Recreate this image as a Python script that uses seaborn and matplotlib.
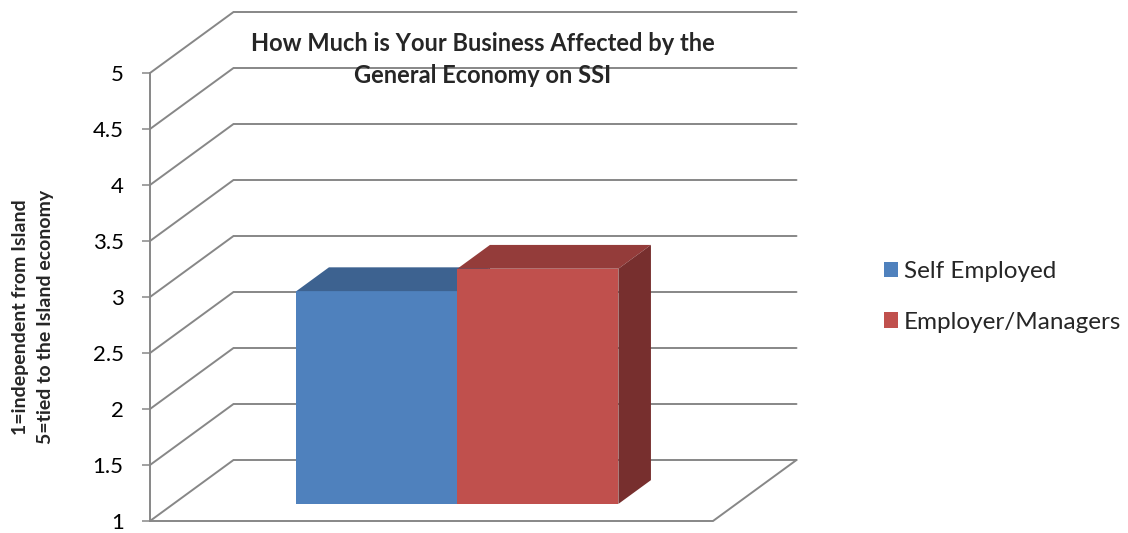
import matplotlib
matplotlib.use("Agg")
import matplotlib.pyplot as plt
from matplotlib.patches import Polygon, Patch
import pandas as pd
import seaborn as sns

# Chart data
series = ["Self Employed", "Employer/Managers"]
values = [2.9, 3.1]
tick_values = [1, 1.5, 2, 2.5, 3, 3.5, 4, 4.5, 5]
tick_labels = ["1", "1.5", "2", "2.5", "3", "3.5", "4", "4.5", "5"]
title_lines = ["How Much is Your Business Affected by the", "General Economy on SSI"]
ylabel_lines = ["1=independent from Island", "5=tied to the Island economy"]

# Face colours of the 3-D columns (front, top, side)
front_colors = ["#4F81BD", "#C0504D"]
top_colors = ["#3D6290", "#943C3A"]
side_colors = ["#34557E", "#772F2E"]
grid_color = "#878787"

sns.set_style("white")
plt.rcParams["font.family"] = ["Lato", "DejaVu Sans"]

W, H = 1128, 533
fig = plt.figure(figsize=(W / 100, H / 100), dpi=100)

# Front plane of the plot box (pixels from the top-left corner)
left_px, right_px, top_px, bottom_px = 150, 713, 73, 521
ax = fig.add_axes([left_px / W, 1 - bottom_px / H,
                   (right_px - left_px) / W, (bottom_px - top_px) / H])

ymin, ymax = 1, 5
cat_px = 161                 # pixels per category unit
first_edge_px = 273          # left edge of the first column on the front plane
xl = -0.5 - (first_edge_px - left_px) / cat_px
xr = xl + (right_px - left_px) / cat_px

# Oblique projection: full depth of the box in data units
px_per_val = (bottom_px - top_px) / (ymax - ymin)
DX = 83.5 / cat_px
DY = 61 / px_per_val
d0, d1 = 0.28, 0.67          # front and back depth of the columns

df = pd.DataFrame({"group": series, "value": values})
sns.barplot(data=df, x="group", y="value", hue="group", palette=front_colors,
            width=1.0, saturation=1, legend=False, errorbar=None, ax=ax,
            linewidth=0)

bars = sorted(ax.patches, key=lambda r: r.get_x())
dd = d1 - d0
for i, (p, v, ctop, cside) in enumerate(zip(bars, values, top_colors, side_colors)):
    w = p.get_width()
    x0 = p.get_x() + d0 * DX
    y0 = ymin + d0 * DY
    top = v + d0 * DY
    p.set_x(x0)
    p.set_y(y0)
    p.set_height(v - ymin)
    p.set_zorder(3 + i)
    p.set_clip_on(False)
    top_face = Polygon([(x0, top), (x0 + w, top),
                        (x0 + w + dd * DX, top + dd * DY), (x0 + dd * DX, top + dd * DY)],
                       closed=True, facecolor=ctop, edgecolor="none",
                       zorder=3.5 + i, clip_on=False)
    side_face = Polygon([(x0 + w, y0), (x0 + w, top),
                         (x0 + w + dd * DX, top + dd * DY), (x0 + w + dd * DX, y0 + dd * DY)],
                        closed=True, facecolor=cside, edgecolor="none",
                        zorder=3.5 + i, clip_on=False)
    ax.add_patch(top_face)
    ax.add_patch(side_face)

# Side-wall and back-wall gridlines
for v in tick_values:
    ax.plot([xl, xl + DX, xr + DX], [v, v + DY, v + DY], color=grid_color,
            lw=1.4, clip_on=False, zorder=1, solid_joinstyle="miter")
# Floor outline
ax.plot([xl, xr, xr + DX], [ymin, ymin, ymin + DY], color=grid_color,
        lw=1.4, clip_on=False, zorder=1, solid_joinstyle="miter")

ax.set_xlim(xl, xr)
ax.set_ylim(ymin, ymax)
ax.set_xticks([])
ax.set_xlabel("")
ax.set_ylabel("")
ax.set_yticks(tick_values, tick_labels)
ax.tick_params(axis="y", left=True, length=6, width=1.1, color=grid_color,
               pad=13, labelsize=16, labelcolor="black")
for lab in ax.get_yticklabels():
    lab.set_horizontalalignment("right")
for side in ["top", "right", "bottom"]:
    ax.spines[side].set_visible(False)
ax.spines["left"].set_color(grid_color)
ax.spines["left"].set_linewidth(1.4)
ax.spines["left"].set_zorder(2)
ax.patch.set_alpha(0)

# Title
fig.text(483 / W, 1 - 51 / H, title_lines[0], ha="center", va="baseline",
         fontsize=17, fontweight="bold")
fig.text(483 / W, 1 - 83 / H, title_lines[1], ha="center", va="baseline",
         fontsize=17, fontweight="bold")

# Axis title (two rotated lines)
fig.text(21 / W, 1 - 317 / H, ylabel_lines[0], rotation=90, ha="center",
         va="center", fontsize=14, fontweight="bold")
fig.text(46 / W, 1 - 317 / H, ylabel_lines[1], rotation=90, ha="center",
         va="center", fontsize=14, fontweight="bold")

# Legend
handles = [Patch(facecolor=c, edgecolor="none") for c in front_colors]
fig.legend(handles, series, loc="center left", bbox_to_anchor=(884 / W, 1 - 297 / H),
           frameon=False, fontsize=17.5, handlelength=0.58, handleheight=0.58,
           handletextpad=0.25, labelspacing=1.2, borderaxespad=0, borderpad=0)

fig.savefig("out.png", dpi=100)
